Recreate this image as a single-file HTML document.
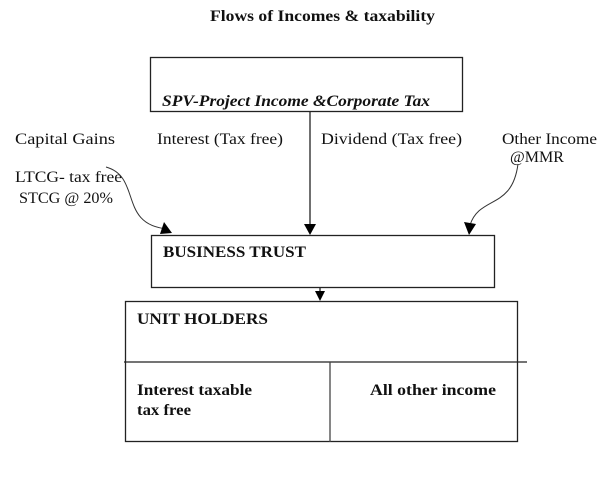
<!DOCTYPE html>
<html><head><style>
html,body{margin:0;padding:0;background:#fff;}
svg{display:block;}
text{font-family:"Liberation Serif",serif;fill:#111;}
</style></head><body>
<svg width="600" height="491" viewBox="0 0 600 491" xmlns="http://www.w3.org/2000/svg">
<text x="210" y="21" font-size="16" font-weight="bold" textLength="225" lengthAdjust="spacingAndGlyphs">Flows of Incomes &amp; taxability</text>
<rect x="150.5" y="57.5" width="312" height="54" fill="none" stroke="#222" stroke-width="1.3"/>
<text x="162" y="106" font-size="16" font-style="italic" font-weight="bold" textLength="268" lengthAdjust="spacingAndGlyphs">SPV-Project Income &amp;Corporate Tax</text>
<line x1="310" y1="112" x2="310" y2="226" stroke="#222" stroke-width="1.3"/>
<path d="M304,224 L316,224 L310,235 z" fill="#000"/>
<text x="15" y="144" font-size="16" textLength="100" lengthAdjust="spacingAndGlyphs">Capital Gains</text>
<text x="157" y="144" font-size="16" textLength="126" lengthAdjust="spacingAndGlyphs">Interest (Tax free)</text>
<text x="321" y="144" font-size="16" textLength="141" lengthAdjust="spacingAndGlyphs">Dividend (Tax free)</text>
<text x="502" y="144" font-size="16" textLength="95" lengthAdjust="spacingAndGlyphs">Other Income</text>
<text x="510" y="162" font-size="16">@MMR</text>
<text x="15" y="182" font-size="16" textLength="107" lengthAdjust="spacingAndGlyphs">LTCG- tax free</text>
<text x="19" y="203" font-size="16" textLength="94" lengthAdjust="spacingAndGlyphs">STCG @ 20%</text>
<path d="M106,167 C142,177 118,225 168,229" fill="none" stroke="#333" stroke-width="1"/>
<path d="M164,222 L172,233 L160,234 z" fill="#000"/>
<path d="M518,164 C512,210 480,195 470,225" fill="none" stroke="#333" stroke-width="1"/>
<path d="M464,222 L476,224 L469,235 z" fill="#000"/>
<rect x="151.5" y="235.5" width="343" height="52" fill="none" stroke="#222" stroke-width="1.3"/>
<text x="163" y="257" font-size="16" font-weight="bold" textLength="143" lengthAdjust="spacingAndGlyphs">BUSINESS TRUST</text>
<line x1="320" y1="288" x2="320" y2="292" stroke="#222" stroke-width="1.3"/>
<path d="M315,291 L325,291 L320,301 z" fill="#000"/>
<rect x="125.5" y="301.5" width="392" height="140" fill="none" stroke="#222" stroke-width="1.3"/>
<line x1="124" y1="362" x2="527" y2="362" stroke="#222" stroke-width="1.3"/>
<line x1="330" y1="362" x2="330" y2="442" stroke="#444" stroke-width="1.3"/>
<text x="137" y="324" font-size="16" font-weight="bold" textLength="131" lengthAdjust="spacingAndGlyphs">UNIT HOLDERS</text>
<text x="137" y="395" font-size="16" font-weight="bold" textLength="115" lengthAdjust="spacingAndGlyphs">Interest taxable</text>
<text x="137" y="415" font-size="16" font-weight="bold" textLength="54" lengthAdjust="spacingAndGlyphs">tax free</text>
<text x="370" y="395" font-size="16" font-weight="bold" textLength="126" lengthAdjust="spacingAndGlyphs">All other income</text>
</svg>
</body></html>
